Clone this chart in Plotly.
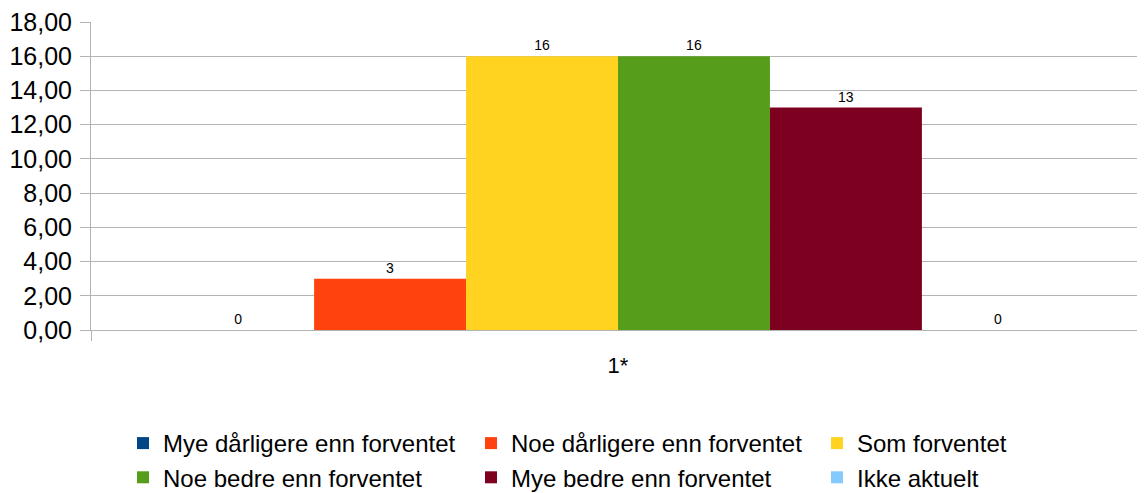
import plotly.graph_objects as go

categories = ["1*"]
series_names = [
    "Mye dårligere enn forventet",
    "Noe dårligere enn forventet",
    "Som forventet",
    "Noe bedre enn forventet",
    "Mye bedre enn forventet",
    "Ikke aktuelt",
]
series_values = [[0], [3], [16], [16], [13], [0]]
series_colors = ["#004586", "#ff420e", "#ffd320", "#579d1c", "#7e0021", "#83caff"]
legend_ids = ["legend", "legend2", "legend3", "legend", "legend2", "legend3"]
y_ticks = [0, 2, 4, 6, 8, 10, 12, 14, 16, 18]

# page body has an 8px margin; size the figure to fit the window
OFF = 8
W, H = 1145 - OFF, 493 - OFF
fig = go.Figure()
for name, vals, col, lg in zip(series_names, series_values, series_colors, legend_ids):
    fig.add_trace(go.Bar(
        x=categories, y=vals, name=name, legend=lg,
        marker=dict(color=col, line=dict(width=0)),
        text=[str(v) for v in vals], textposition="outside",
        textfont=dict(size=14, color="#000000", family="Liberation Sans, Arial, sans-serif"),
        cliponaxis=False,
    ))

gray = "#b3b3b3"
font_family = "Liberation Sans, Arial, sans-serif"

def leg(xpx, ypx):
    return dict(
        xref="container", yref="container",
        x=(xpx - OFF) / W, y=1 - (ypx - OFF) / H, xanchor="left", yanchor="top",
        orientation="v", font=dict(size=24, color="#000000", family=font_family),
        bgcolor="rgba(0,0,0,0)", borderwidth=0, tracegroupgap=0,
    )

fig.update_layout(
    width=W, height=H,
    margin=dict(l=91 - OFF, r=0, t=22 - OFF, b=163, autoexpand=False),
    paper_bgcolor="white", plot_bgcolor="white",
    separators=", ",
    barmode="group", bargap=0.135, bargroupgap=0,
    showlegend=True,
    legend=leg(123, 421),
    legend2=leg(471, 421),
    legend3=leg(817, 421),
    font=dict(family=font_family, color="#000000"),
    yaxis=dict(
        range=[0, 18], tickvals=y_ticks, tickformat=".2f", automargin=False,
        ticklabeloverflow="allow",
        showgrid=True, gridcolor=gray, gridwidth=1,
        showline=True, linecolor=gray, linewidth=1,
        ticks="outside", ticklen=10, tickcolor=gray,
        tickfont=dict(size=25, color="#000000", family=font_family),
        zeroline=False, ticklabelstandoff=3,
    ),
    xaxis=dict(
        automargin=False,
        showline=True, linecolor=gray, linewidth=1,
        ticks="outside", tickson="boundaries", ticklen=10, tickcolor=gray,
        tickfont=dict(size=22, color="#000000", family=font_family),
        ticklabelstandoff=16,
    ),
)

fig.write_html("out.html")
